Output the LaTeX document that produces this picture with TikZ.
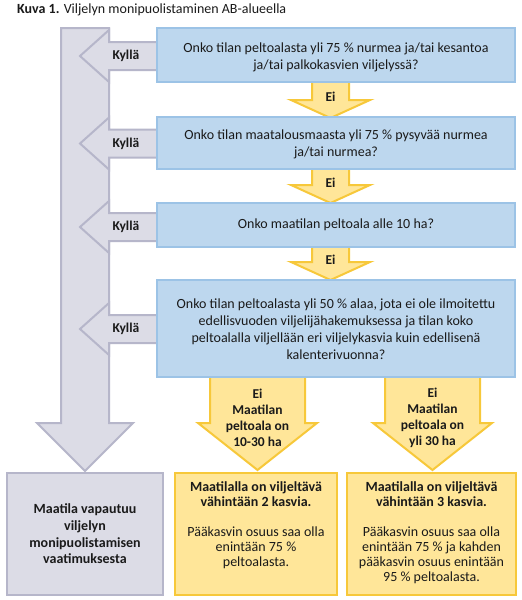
\documentclass[tikz,border=0pt]{standalone}
\usepackage{fontspec}
\setmainfont{Carlito}
\definecolor{bfill}{HTML}{BDD7EE}
\definecolor{bline}{HTML}{9CC3E6}
\definecolor{yfill}{HTML}{FFE699}
\definecolor{yline}{HTML}{F7C83A}
\definecolor{gfill}{HTML}{DCDCE6}
\definecolor{gline}{HTML}{B6B6CA}
\definecolor{ink}{HTML}{1A1A1A}
\begin{document}
\begin{tikzpicture}[x=1pt,y=-1pt,
  qbox/.style={draw=bline, fill=bfill, line width=2pt, inner sep=0pt, align=center,
    font=\fontsize{14}{17}\selectfont, text=ink},
  qtext/.style={inner sep=0pt, align=center, font=\fontsize{14}{17}\selectfont, text=ink},
  ybox/.style={draw=yline, fill=yfill, line width=2pt, inner sep=0pt},
  gbox/.style={draw=gline, fill=gfill, line width=2pt, inner sep=0pt, align=center,
    font=\bfseries\fontsize{14}{16.7}\selectfont, text=ink},
  garrow/.style={draw=gline, fill=gfill, line width=2pt, line join=miter},
  yarrow/.style={draw=yline, fill=yfill, line width=2pt, line join=miter},
  lbl/.style={font=\bfseries\fontsize{13.5}{16}\selectfont, align=center, text=ink, inner sep=0pt},
  ytext/.style={font=\fontsize{14}{15}\selectfont, align=center, text=ink, inner sep=0pt}]
\useasboundingbox (0,0) rectangle (522,600);
\fill[white] (0,0) rectangle (522,600);

% title
\node[anchor=base west, inner sep=0pt, font=\fontsize{14}{16}\selectfont, text=ink] (title) at (17,13)
  {\textbf{Kuva 1.} Viljelyn monipuolistaminen AB-alueella};

% gray vertical arrow
\draw[garrow] (61,28) -- (109,28) -- (109,423) -- (133,423) -- (85,471) -- (37,423) -- (61,423) -- cycle;

% Kyllä arrows
\foreach \cy [count=\i] in {56,143.5,227,329}{
  \filldraw[garrow] (162,\cy-14) -- (109,\cy-14) -- (109,\cy-26) -- (80,\cy)
     -- (109,\cy+26) -- (109,\cy+14) -- (162,\cy+14);
  \node[lbl] (k\i) at (126,\cy) {Kyllä};
}

% small Ei arrows
\filldraw[yarrow] (312,80) -- (312,100) -- (291,100) -- (330.5,118) -- (370,100) -- (349,100) -- (349,80);
\filldraw[yarrow] (312,167) -- (312,185) -- (291,185) -- (330.5,203) -- (370,185) -- (349,185) -- (349,167);
\filldraw[yarrow] (312,245) -- (312,262) -- (291,262) -- (330.5,280) -- (370,262) -- (349,262) -- (349,245);

% big yellow arrows
\filldraw[yarrow] (210,375) -- (210,423) -- (198,423) -- (257.5,470) -- (317,423) -- (305,423) -- (305,375);
\filldraw[yarrow] (385,375) -- (385,423) -- (373,423) -- (432.5,470) -- (492,423) -- (480,423) -- (480,375);

% question boxes
\node[qbox, minimum width=358, minimum height=54] (q1) at (336,55) {};
\node[qtext] (q1t) at (336,57) {Onko tilan peltoalasta yli 75 \% nurmea ja/tai kesantoa\\ja/tai palkokasvien viljelyssä?};
\node[qbox, minimum width=358, minimum height=52] (q2) at (336,143) {};
\node[qtext] (q2t) at (336,144) {Onko tilan maatalousmaasta yli 75 \% pysyvää nurmea\\ja/tai nurmea?};
\node[qbox, minimum width=358, minimum height=44] (q3) at (336,225) {Onko maatilan peltoala alle 10 ha?};
\node[qbox, minimum width=358, minimum height=97] (q4) at (336,328.5) {};
\node[qtext] (q4t) at (336,329.5) {Onko tilan peltoalasta yli 50 \% alaa, jota ei ole ilmoitettu\\
  edellisvuoden viljelijähakemuksessa ja tilan koko\\
  peltoalalla viljellään eri viljelykasvia kuin edellisenä\\
  kalenterivuonna?};

% labels on arrows
\node[lbl] (e1) at (330.5,97) {Ei};
\node[lbl] (e2) at (330.5,183) {Ei};
\node[lbl] (e3) at (330.5,260) {Ei};
\node[lbl] (e4) at (257.5,418) {Ei\\Maatilan\\peltoala on\\10-30 ha};
\node[lbl] (e5) at (432.5,418) {Ei\\Maatilan\\peltoala on\\yli 30 ha};

% bottom boxes
\node[gbox, minimum width=156, minimum height=122] (g) at (85,534) {Maatila vapautuu\\viljelyn\\monipuolistamisen\\vaatimuksesta};
\node[ybox, minimum width=162, minimum height=122] (y1) at (256,534) {};
\node[ytext, anchor=north] (y1t) at (256,481)
  {\textbf{Maatilalla on viljeltävä}\\\textbf{vähintään 2 kasvia.}\\[15pt]
   Pääkasvin osuus saa olla\\enintään 75 \%\\peltoalasta.};
\node[ybox, minimum width=169, minimum height=122] (y2) at (431.5,534) {};
\node[ytext, anchor=north] (y2t) at (431.5,481)
  {\textbf{Maatilalla on viljeltävä}\\\textbf{vähintään 3 kasvia.}\\[15pt]
   Pääkasvin osuus saa olla\\enintään 75 \% ja kahden\\pääkasvin osuus enintään\\95 \% peltoalasta.};
\end{tikzpicture}
\end{document}
